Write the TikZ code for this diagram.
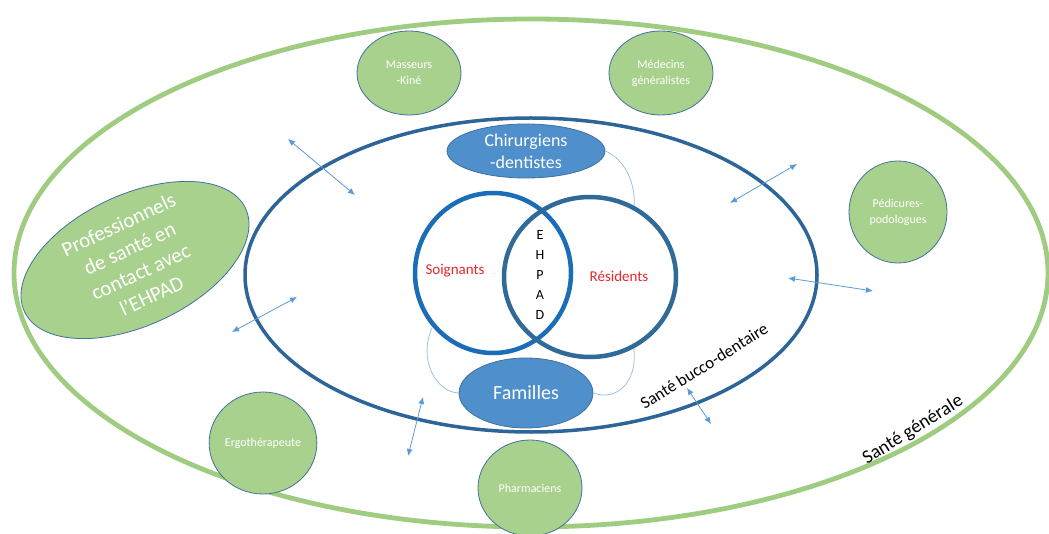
\documentclass[tikz,border=0pt]{standalone}
\usepackage{fontspec}
\setmainfont{Carlito}
\usetikzlibrary{shapes.geometric,arrows.meta}
\definecolor{gline}{HTML}{A0CC82}
\definecolor{gfill}{HTML}{A9D18E}
\definecolor{gedge}{HTML}{41719C}
\definecolor{dblue}{HTML}{2E6599}
\definecolor{vleft}{HTML}{1C6DB8}
\definecolor{vright}{HTML}{2F6A99}
\definecolor{bfill}{HTML}{4E8FCC}
\definecolor{thin}{HTML}{9DC3E6}
\definecolor{ablue}{HTML}{5B9BD5}
\definecolor{redtxt}{HTML}{E8262B}
\tikzset{
  fs/.style 2 args={font=\fontsize{#1}{#2}\selectfont},
  probox/.style={ellipse, draw=gedge, line width=0.8pt, fill=gfill, text=white, inner sep=0pt, align=center},
  bluebox/.style={ellipse, draw=gedge, line width=0.8pt, fill=bfill, text=white, inner sep=0pt, align=center},
  ring/.style={ellipse, inner sep=0pt, line width=4.5pt},
  link/.style={draw=thin, line width=0.8pt},
  twoway/.style={draw=ablue, line width=0.8pt, {Latex[length=7pt,width=6pt]}-{Latex[length=7pt,width=6pt]}},
}
\begin{document}
\begin{tikzpicture}[x=1pt,y=-1pt]
\useasboundingbox[fill=white] (0,0) rectangle (1049,534);
% outer and inner ellipses
\node[ellipse, draw=gline, line width=4.8pt, inner sep=0pt, minimum width=1034pt, minimum height=508pt] (gen) at (531,273) {};
\node[ellipse, draw=dblue, line width=3.5pt, inner sep=0pt, minimum width=572pt, minimum height=314pt] (bucco) at (531,275) {};
% green professionals
\node[probox, fs={12}{16}, minimum width=104pt, minimum height=84pt] (mass) at (409,73) {Masseurs\\-Kiné};
\node[probox, fs={12}{16}, minimum width=104pt, minimum height=84pt] (med) at (661,73) {Médecins\\généralistes};
\node[probox, fs={12}{16}, minimum width=98pt, minimum height=102pt] (ped) at (898,212) {Pédicures-\\podologues};
\node[probox, fs={12}{14}, minimum width=104pt, minimum height=102pt] (ergo) at (263,443) {Ergothérapeute};
\node[probox, fs={12}{14}, minimum width=104pt, minimum height=96pt] (phar) at (530,488) {Pharmaciens};
\node[probox, fs={21}{26}, minimum width=244pt, minimum height=92pt, rotate=25] (prof) at (135,260) {Professionnels\\de santé en\\contact avec\\l’EHPAD};
% blue ellipses
\node[bluebox, fs={18}{22}, minimum width=158pt, minimum height=54pt] (chir) at (526,151) {Chirurgiens\\-dentistes};
\node[bluebox, fs={20}{24}, minimum width=134pt, minimum height=70pt] (fam) at (526,393) {Familles};
% thin links
\draw[link] (chir.east) .. controls (626,160) and (636,185) .. (634,207);
\draw[link] (432,328) .. controls (418,360) and (436,392) .. (fam.west);
\draw[link] (633,343) .. controls (640,380) and (618,402) .. (fam.east);
% venn
\node[ring, draw=vleft, minimum width=156pt, minimum height=160pt] (soi) at (493,273) {};
\node[ring, draw=vright, minimum width=172pt, minimum height=160pt] (res) at (590,277) {};
\node[text=redtxt, fs={15}{18}] (tsoi) at (455,271) {Soignants};
\node[text=redtxt, fs={15}{18}] (tres) at (619,276) {Résidents};
\node[align=center, fs={14}{20}, inner sep=0pt] (ehpad) at (540,275) {E\\H\\P\\A\\D};
% arrows
\coordinate (a1s) at (288,139); \coordinate (a1e) at (355,195);
\coordinate (a2s) at (232,332); \coordinate (a2e) at (297,297);
\coordinate (a3s) at (423,397); \coordinate (a3e) at (408,456);
\coordinate (a4s) at (687,388); \coordinate (a4e) at (711,424);
\coordinate (a5s) at (730,203); \coordinate (a5e) at (797,164);
\coordinate (a6s) at (788,278); \coordinate (a6e) at (873,291);
\draw[twoway] (a1s) -- (a1e);
\draw[twoway] (a2s) -- (a2e);
\draw[twoway] (a3s) -- (a3e);
\draw[twoway] (a4s) -- (a4e);
\draw[twoway] (a5s) -- (a5e);
\draw[twoway] (a6s) -- (a6e);
% labels
\node[fs={17}{20}, rotate=32] (lbucco) at (704,366) {Santé bucco-dentaire};
\node[fs={19}{22}, rotate=32] (lgen) at (913,430) {Santé générale};
\end{tikzpicture}
\end{document}
